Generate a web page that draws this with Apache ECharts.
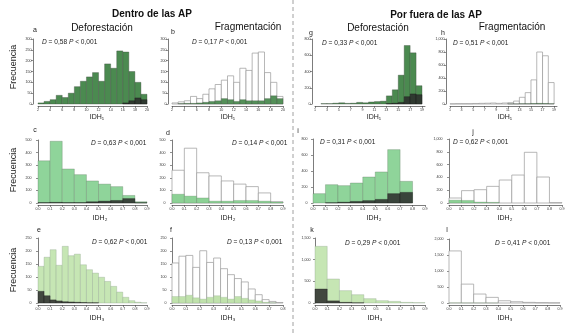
<!DOCTYPE html>
<html><head><meta charset="utf-8">
<script src="https://cdn.jsdelivr.net/npm/echarts@6/dist/echarts.min.js"></script>
<style>html,body{margin:0;padding:0;background:#fff}#c{width:580px;height:336px}</style>
</head><body><div id="c"></div>
<script>
// ---------- DATA ----------
const edgesA = [2,3,4,5,6,7,8,9,10,11,12,13,14,15,16,17,18,19,20];
const edgesG = [1,2,3,4,5,6,7,8,9,10,11,12,13,14,15,16,17,18,19];
const edges10 = [0,0.1,0.2,0.3,0.4,0.5,0.6,0.7,0.8,0.9];
const edges05 = [0,0.05,0.1,0.15,0.2,0.25,0.3,0.35,0.4,0.45,0.5,0.55,0.6,0.65,0.7,0.75,0.8,0.85,0.9];
const edges05f = [0,0.05,0.1,0.15,0.2,0.25,0.3,0.35,0.4,0.45,0.5,0.55,0.6,0.65,0.7,0.75,0.8];

const ticksG = [1,3,5,7,9,11,13,15,17,19];

// a: Dentro, Deforestación, IDH1
const aMain = [5,12,20,40,30,50,80,105,125,145,105,185,165,245,240,150,100,45];
const aDark = [0,0,0,0,0,0,0,0,0,0,0,0,0,0,5,15,28,20];
// b: Dentro, Fragmentación, IDH1
const bMain = [5,10,15,35,25,45,70,90,110,130,100,165,155,235,240,145,100,35];
const bGreen = [0,2,3,3,5,8,12,15,25,20,12,20,15,15,15,25,38,25];
// g: Por fuera, Deforestación, IDH1
const gMain = [0,5,5,10,15,8,10,20,15,25,30,35,100,175,355,720,630,225];
const gDark = [0,0,0,0,0,0,0,0,0,0,0,0,5,10,20,90,124,115];
// h: Por fuera, Fragmentación, IDH1
const hMain = [3,5,5,5,8,10,12,15,10,15,20,45,103,175,371,800,742,330];
const hGreen = [0,0,0,0,0,0,0,0,0,0,2,2,5,5,8,10,8,5];
// c: Dentro, Deforestación, IDH2
const cMain = [335,490,270,225,175,150,130,60,10];
const cDark = [3,5,3,3,10,15,20,35,2];
// d: Dentro, Fragmentación, IDH2
const dMain = [260,435,240,215,175,150,130,80,10];
const dGreen = [70,55,40,15,15,20,20,15,8];
// i: Por fuera, Deforestación, IDH2
const iMain = [117,229,217,250,325,388,667,271,0];
const iDark = [0,3,10,20,30,45,117,133,0];
// j: Por fuera, Fragmentación, IDH2
const jMain = [78,193,208,260,359,437,792,406,5];
const jGreen = [45,40,15,10,0,0,0,0,0];
// e: Dentro, Deforestación, IDH3
const eMain = [141,176,205,145,218,182,188,147,128,115,99,83,64,42,22,9,3,1];
const eDark = [45,28,12,8,5,4,3,2,1,1,0,0,0,0,0,0,0,0];
// f: Dentro, Fragmentación, IDH3
const fMain = [154,180,183,137,201,156,173,132,109,94,81,54,32,13,6,2];
const fGreen = [25,25,30,20,15,22,28,22,15,25,18,12,8,3,1,0];
// k: Por fuera, Deforestación, IDH3
const kMain = [1308,554,285,192,100,54,38,15,8];
const kDark = [323,50,15,5,0,0,0,0,0];
// l: Por fuera, Fragmentación, IDH3
const lMain = [1627,590,280,176,70,40,20,10,5];
const lGreen = [5,3,2,1,0,0,0,0,0];

const stats = {
  a:'{i|D} = 0,58 {i|P} < 0,001', b:'{i|D} = 0,17 {i|P} < 0,001', g:'{i|D} = 0,33 {i|P} < 0,001', h:'{i|D} = 0,51 {i|P} < 0,001',
  c:'{i|D} = 0,63 {i|P} < 0,001', d:'{i|D} = 0,14 {i|P} < 0,001', i:'{i|D} = 0,31 {i|P} < 0,001', j:'{i|D} = 0,62 {i|P} < 0,001',
  e:'{i|D} = 0,62 {i|P} < 0,001', f:'{i|D} = 0,13 {i|P} < 0,001', k:'{i|D} = 0,29 {i|P} < 0,001', l:'{i|D} = 0,41 {i|P} < 0,001'
};

// ---------- STYLES ----------
const FONT = '"Liberation Sans", Arial, sans-serif';
const S = {
  dkgreen: {fill:'#4b8a50', stroke:'rgba(60,70,60,0.7)', lw:0.5, op:1},
  mdgreen: {fill:'#8fd49a', stroke:'rgba(90,110,90,0.6)', lw:0.5, op:1},
  ltgreen: {fill:'#c6e6b4', stroke:'rgba(130,150,130,0.6)', lw:0.5, op:1},
  white:   {fill:'#ffffff', stroke:'#9a9a9a', lw:0.7, op:1},
  dark:    {fill:'#2a2a2a', stroke:'rgba(20,20,20,0.9)', lw:0.4, op:0.85},
  dkgreenO:{fill:'#4b8a50', stroke:'rgba(60,70,60,0.7)', lw:0.4, op:0.95},
  mdgreenO:{fill:'#86cf8f', stroke:'rgba(90,110,90,0.6)', lw:0.4, op:0.95},
  ltgreenO:{fill:'#bde0a8', stroke:'rgba(130,150,130,0.6)', lw:0.4, op:0.95}
};

// ---------- PANELS (layout) ----------
const panels = [
  {k:'a', left:38,  top:39,  w:109, h:65, xmin:2, xmax:20, xint:2, ymax:300,  yint:50,  yoff:5, layers:[[edgesA,aMain,'dkgreen'],[edgesA,aDark,'dark']], lbl:[35,30], st:[42,42], xl:[97,117,'IDH₁']},
  {k:'b', left:172, top:39,  w:111, h:65, xmin:2, xmax:20, xint:2, ymax:300,  yint:50,  yoff:4, layers:[[edgesA,bMain,'white'],[edgesA,bGreen,'dkgreenO']], lbl:[173,32], st:[192,42], xl:[228,117,'IDH₁']},
  {k:'g', left:315, top:39,  w:110, h:65, xmin:1, xmax:19.5, custom:ticksG, ymax:800, yint:200, yoff:3, layers:[[edgesG,gMain,'dkgreen'],[edgesG,gDark,'dark']], lbl:[311,33], st:[322,43], xl:[374,117,'IDH₁']},
  {k:'h', left:450, top:39,  w:107, h:65, xmin:1, xmax:19.5, custom:ticksG, ymax:1000, yint:200, yoff:4, layers:[[edgesG,hMain,'white'],[edgesG,hGreen,'dkgreenO']], lbl:[443,33], st:[453,43], xl:[505,117,'IDH₁']},
  {k:'c', left:38,  top:140, w:109, h:63, xmin:0, xmax:0.9, xint:0.1, ymax:500, yint:100, yoff:5, layers:[[edges10,cMain,'mdgreen'],[edges10,cDark,'dark']], lbl:[35,130], st:[91,143], xl:[100,218,'IDH₂']},
  {k:'d', left:172, top:140, w:111, h:63, xmin:0, xmax:0.9, xint:0.1, ymax:500, yint:100, yoff:5, layers:[[edges10,dMain,'white'],[edges10,dGreen,'mdgreenO']], lbl:[168,133], st:[232,143], xl:[228,218,'IDH₂']},
  {k:'i', left:313, top:139, w:112, h:64, xmin:0, xmax:0.9, xint:0.1, ymax:800, yint:200, yoff:4, layers:[[edges10,iMain,'mdgreen'],[edges10,iDark,'dark']], lbl:[298,131], st:[320,142], xl:[374,218,'IDH₂']},
  {k:'j', left:449, top:139, w:113, h:64, xmin:0, xmax:0.9, xint:0.1, ymax:1000, yint:200, yoff:5, layers:[[edges10,jMain,'white'],[edges10,jGreen,'mdgreenO']], lbl:[473,132], st:[453,142], xl:[505,218,'IDH₂']},
  {k:'e', left:38,  top:238, w:109, h:65, xmin:0, xmax:0.9, xint:0.1, ymax:250, yint:50, yoff:5, layers:[[edges05,eMain,'ltgreen'],[edges05,eDark,'dark']], lbl:[39,230], st:[92,242], xl:[97,318,'IDH₃']},
  {k:'f', left:172, top:238, w:111, h:65, xmin:0, xmax:0.8, xint:0.1, ymax:250, yint:50, yoff:4, layers:[[edges05f,fMain,'white'],[edges05f,fGreen,'ltgreenO']], lbl:[171,230], st:[227,242], xl:[228,318,'IDH₃']},
  {k:'k', left:315, top:238, w:110, h:65, xmin:0, xmax:0.9, xint:0.1, ymax:1500, yint:500, yoff:3, layers:[[edges10,kMain,'ltgreen'],[edges10,kDark,'dark']], lbl:[312,230], st:[345,243], xl:[375,318,'IDH₃']},
  {k:'l', left:449, top:239, w:111, h:64, xmin:0, xmax:0.9, xint:0.1, ymax:2000, yint:500, yoff:4, layers:[[edges10,lMain,'white'],[edges10,lGreen,'ltgreenO']], lbl:[447,230], st:[495,243], xl:[505,318,'IDH₃']}
];

const axisCol = '#444';
const grids = [], xAxes = [], yAxes = [], series = [], graphics = [];

panels.forEach((p, gi) => {
  grids.push({left:p.left, top:p.top, width:p.w, height:p.h, containLabel:false, outerBoundsMode:'none'});
  const xa = {
    gridIndex:gi, type:'value', min:p.xmin, max:p.xmax, offset:2,
    axisLine:{show:true, onZero:false, lineStyle:{color:axisCol, width:0.7}},
    axisTick:{show:true, length:2, lineStyle:{color:axisCol, width:0.6}},
    axisLabel:{fontSize:3.6, margin:2, color:'#333', fontFamily:FONT,
      formatter: v => (p.xint && p.xint < 1) ? Number(v).toFixed(1) : String(v)},
    splitLine:{show:false}
  };
  if (p.custom) {
    xa.interval = 2;
    xa.axisLabel.customValues = p.custom;
    xa.axisTick.customValues = p.custom;
  } else {
    xa.interval = p.xint;
  }
  xAxes.push(xa);
  yAxes.push({
    gridIndex:gi, type:'value', min:0, max:p.ymax, interval:p.yint, offset:p.yoff,
    axisLine:{show:true, lineStyle:{color:axisCol, width:0.7}},
    axisTick:{show:true, length:2, lineStyle:{color:axisCol, width:0.6}},
    axisLabel:{fontSize:3.6, margin:1.5, color:'#333', fontFamily:FONT},
    splitLine:{show:false}
  });
  p.layers.forEach(([edges, vals, sk]) => {
    const st = S[sk];
    series.push({
      type:'custom', xAxisIndex:gi, yAxisIndex:gi, silent:true, clip:false,
      encode:{x:[0,1], y:2},
      data: vals.map((v, i) => [edges[i], edges[i+1], v]),
      renderItem: (params, api) => {
        const v = api.value(2);
        if (!v) return null;
        const a = api.coord([api.value(0), 0]);
        const b = api.coord([api.value(1), v]);
        return {type:'rect', shape:{x:a[0], y:b[1], width:b[0]-a[0], height:a[1]-b[1]},
          style:{fill:st.fill, stroke:st.stroke, lineWidth:st.lw, opacity:st.op}};
      }
    });
  });
  graphics.push({type:'text', x:p.lbl[0], y:p.lbl[1], style:{text:p.k, font:'7px '+FONT, fill:'#222', align:'center', verticalAlign:'middle'}});
  graphics.push({type:'text', x:p.st[0], y:p.st[1], style:{text:stats[p.k], font:'6.6px '+FONT, fill:'#222', align:'left', verticalAlign:'middle', rich:{i:{fontStyle:'italic', fontSize:6.6, fontFamily:FONT}}}});
  graphics.push({type:'text', x:p.xl[0], y:p.xl[1], style:{text:p.xl[2], font:'7px '+FONT, fill:'#222', align:'center', verticalAlign:'middle'}});
});

// headers
[['Dentro de las AP',152,14,'bold 10px '],['Por fuera de las AP',436,15,'bold 10px '],
 ['Deforestación',102,28,'10px '],['Fragmentación',248,27,'10px '],
 ['Deforestación',378,28,'10px '],['Fragmentación',512,27,'10px ']].forEach(t => {
  graphics.push({type:'text', x:t[1], y:t[2], style:{text:t[0], font:t[3]+FONT, fill:'#111', align:'center', verticalAlign:'middle'}});
});
[67,170,270].forEach(y => {
  graphics.push({type:'text', x:14, y:y, rotation:Math.PI/2, style:{text:'Frecuencia', font:'9px '+FONT, fill:'#222', align:'center', verticalAlign:'middle'}});
});
graphics.push({type:'line', shape:{x1:293, y1:0, x2:293, y2:336}, style:{stroke:'#888', lineWidth:0.8, lineDash:[4,3]}});

const chart = echarts.init(document.getElementById('c'), null, {renderer:'canvas'});
chart.setOption({animation:false, backgroundColor:'#fff', grid:grids, xAxis:xAxes, yAxis:yAxes, series:series, graphic:graphics});
</script>
</body></html>
